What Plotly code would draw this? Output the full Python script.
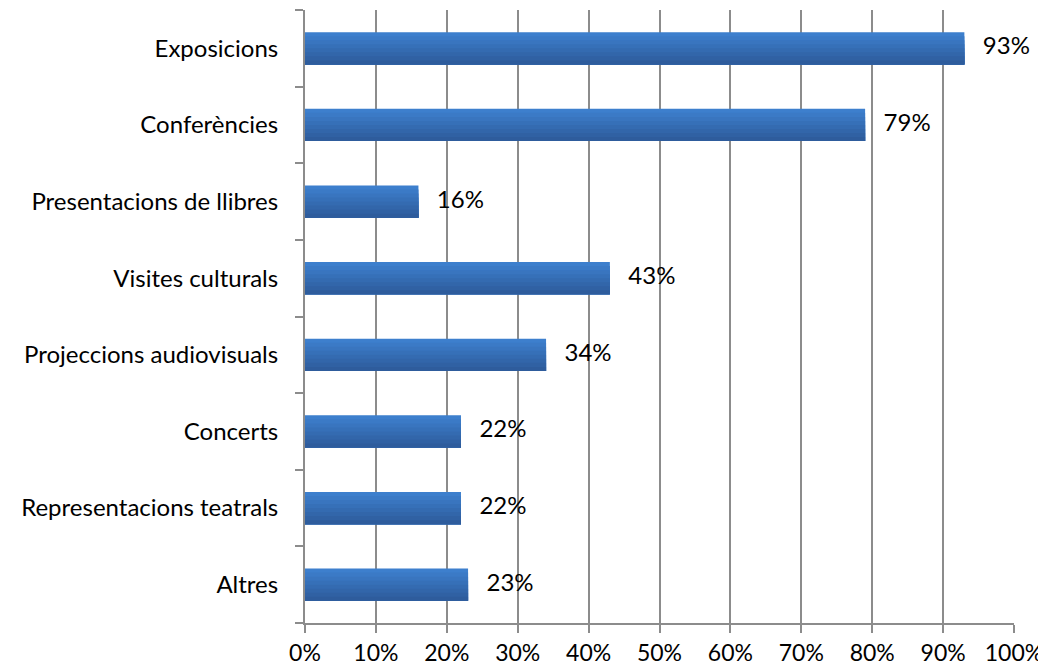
import plotly.graph_objects as go

categories = ["Exposicions", "Conferències", "Presentacions de llibres", "Visites culturals",
              "Projeccions audiovisuals", "Concerts", "Representacions teatrals", "Altres"]
values = [93, 79, 16, 43, 34, 22, 22, 23]
tick_vals = [0, 10, 20, 30, 40, 50, 60, 70, 80, 90, 100]
tick_text = [f"{v}%" for v in tick_vals]

grid = "#8c8c8c"
font = dict(family="Lato, Liberation Sans, sans-serif", size=24, color="#000000")

# vertical gradient of the bars: top (light) -> bottom (dark)
grad = ["#3D7FCD", "#3B7AC6", "#3975BF", "#3670B8", "#346BB1", "#3266AA", "#3061A3", "#2E5C9C"]
bar_h = 0.42
n = len(grad)

fig = go.Figure()
for i, c in enumerate(grad):
    w = bar_h * (n - i) / n
    fig.add_trace(go.Bar(
        y=categories, x=values, orientation="h",
        width=w, offset=-bar_h / 2,
        marker=dict(color=c, line=dict(width=0)),
        hoverinfo="skip" if i else None,
    ))

# value labels
fig.add_trace(go.Scatter(
    y=categories, x=values, mode="text",
    text=[f"{v}%" for v in values],
    textposition="middle right",
    texttemplate="   %{text}",
    textfont=font,
    cliponaxis=False,
    hoverinfo="skip",
))

fig.update_layout(
    width=1046, height=668,
    margin=dict(l=297, r=40, t=2, b=53),
    paper_bgcolor="white", plot_bgcolor="white",
    barmode="overlay",
    showlegend=False,
    font=font,
)
fig.update_xaxes(
    range=[0, 100], tickvals=tick_vals, ticktext=tick_text,
    tickfont=dict(family="Lato, Liberation Sans, sans-serif", size=23, color="#000000"),
    showgrid=True, gridcolor=grid, gridwidth=2,
    showline=True, linecolor=grid, linewidth=2,
    ticks="outside", ticklen=8, tickwidth=2, tickcolor=grid,
    ticklabelstandoff=0, zeroline=False,
)
fig.update_yaxes(
    categoryorder="array", categoryarray=categories[::-1],
    tickson="boundaries", showgrid=False,
    showline=True, linecolor=grid, linewidth=2,
    ticks="outside", ticklen=8, tickwidth=2, tickcolor=grid,
    ticklabelstandoff=20,
)
fig.write_html("out.html")
